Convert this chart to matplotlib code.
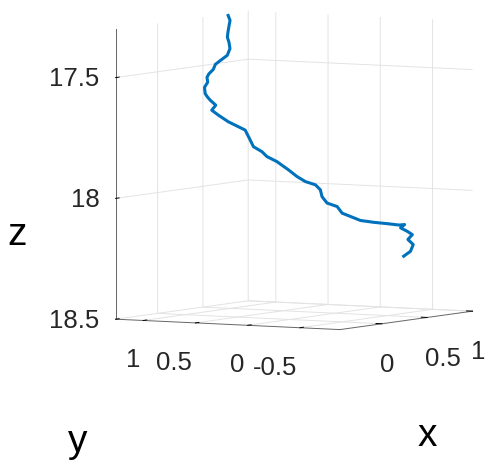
import matplotlib
matplotlib.use("Agg")
import matplotlib.pyplot as plt

plt.rcParams['font.family'] = ['Liberation Sans', 'DejaVu Sans']

# trajectory
x = [0.770, 0.743, 0.684, 0.624, 0.569, 0.538, 0.501, 0.423, 0.300, 0.196, 0.125, 0.027, -0.042,
     -0.081, -0.165, -0.206, -0.227, -0.248, -0.233, -0.326, -0.301, -0.239, -0.176, -0.150, -0.151,
     -0.155, -0.110, -0.103, -0.041, 0.040, 0.085, 0.128, 0.191, 0.198, 0.168, 0.175, 0.238, 0.245,
     0.289, 0.351, 0.450, 0.551, 0.631, 0.646, 0.553, 0.579, 0.586, 0.488, 0.500, 0.421, 0.298]
y = [1.257, 1.215, 1.173, 1.132, 1.090, 1.048, 1.006, 0.964, 0.923, 0.881, 0.839, 0.797, 0.755,
     0.714, 0.672, 0.630, 0.588, 0.546, 0.505, 0.463, 0.421, 0.379, 0.337, 0.296, 0.254, 0.212,
     0.170, 0.128, 0.087, 0.045, 0.003, -0.039, -0.081, -0.122, -0.164, -0.206, -0.248, -0.290,
     -0.331, -0.373, -0.415, -0.457, -0.499, -0.540, -0.582, -0.624, -0.666, -0.708, -0.749, -0.791, -0.833]
z = [17.307, 17.325, 17.342, 17.366, 17.383, 17.401, 17.425, 17.448, 17.462, 17.472, 17.488, 17.501,
     17.511, 17.528, 17.544, 17.567, 17.580, 17.590, 17.611, 17.626, 17.647, 17.677, 17.700, 17.714,
     17.748, 17.781, 17.803, 17.823, 17.846, 17.884, 17.913, 17.935, 17.951, 17.971, 17.997, 18.023,
     18.040, 18.067, 18.082, 18.101, 18.113, 18.123, 18.132, 18.130, 18.138, 18.153, 18.166, 18.180,
     18.201, 18.224, 18.237]

xlim = (-0.463, 1)
ylim = (-0.883, 1.264)
zlim = (17.3, 18.5)
xticks = [0, 0.5, 1]
yticks = [-0.5, 0, 0.5, 1]
zticks = [17.5, 18, 18.5]
xticklabels = ['0', '0.5', '1']
yticklabels = ['-0.5', '0', '0.5', '1']
zticklabels = ['17.5', '18', '18.5']

GRID = '#e3e3e3'
AXC = '#262626'
FS = 18.5

fig = plt.figure(figsize=(4.88, 4.71), dpi=100)
ax = fig.add_axes([0.1422, 0.2278, 0.9, 0.8], projection='3d', proj_type='ortho')
ax.view_init(elev=4.6, azim=-150)
ax.set_box_aspect((1.024, 1, 1.123), zoom=1.214)
ax.plot(x, y, z, color='#0072BD', lw=2.2)
ax.set_xlim(*xlim)
ax.set_ylim(*ylim)
ax.set_zlim(zlim[1], zlim[0])   # z runs downward
ax.set_xticks(xticks)
ax.set_yticks(yticks)
ax.set_zticks(zticks)

for axis in (ax.xaxis, ax.yaxis, ax.zaxis):
    axis.set_tick_params(labelbottom=False, labeltop=False)
    axis.set_pane_color((1, 1, 1, 0))
    axis.pane.set_edgecolor('none')
    axis.line.set_color('0.4')
    axis.line.set_linewidth(0.7)
    axis._axinfo['grid']['color'] = GRID
    axis._axinfo['grid']['linewidth'] = 0.7
    axis._axinfo['tick']['color'] = '0.4'
    axis._axinfo['tick']['linewidth'] = {True: 0.7, False: 0.5}
    axis._axinfo['tick']['inward_factor'] = 0.0
    axis._axinfo['tick']['outward_factor'] = 0.33
ax.zaxis.pane.set_edgecolor(GRID)

# tick labels, anchored the MATLAB way
for v, s in zip(zticks, zticklabels):
    ax.text(xlim[0], ylim[1] + 0.153, v, s, ha='right', va='center_baseline', fontsize=FS, color=AXC)
for v, s in zip(yticks, yticklabels):
    ax.text(xlim[0], v + 0.03, zlim[1] + 0.116, s, ha='right', va='top', fontsize=FS, color=AXC)
for v, s in zip(xticks, xticklabels):
    ax.text(v - 0.02, ylim[0], zlim[1] + 0.12, s, ha='left', va='top', fontsize=FS, color=AXC)

fig.text(17, 471 - 245, 'z', transform=None, fontsize=28, ha='center', va='baseline')
fig.text(77.5, 471 - 452, 'y', transform=None, fontsize=28, ha='center', va='baseline')
fig.text(427, 471 - 446, 'x', transform=None, fontsize=28, ha='center', va='baseline')

fig.savefig('out.png', dpi=100)
